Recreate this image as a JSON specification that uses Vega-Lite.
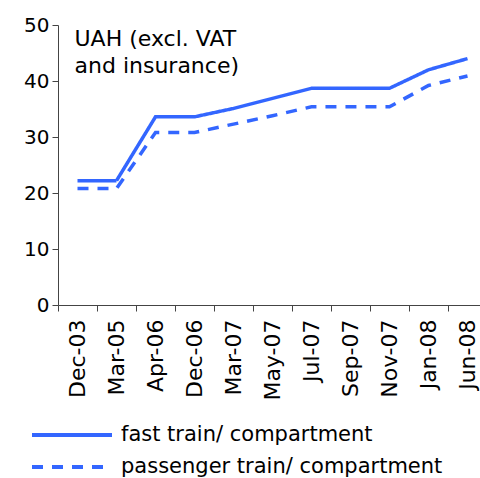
{
  "$schema": "https://vega.github.io/schema/vega-lite/v6.json",
  "autosize": {"type": "none"},
  "padding": {"left": 58, "top": 25, "right": 0, "bottom": 173},
  "width": 429,
  "height": 280,
  "config": {
    "font": "DejaVu Sans",
    "view": {"stroke": null},
    "axis": {"labelFont": "DejaVu Sans", "labelColor": "#000", "domainColor": "#444", "tickColor": "#444", "grid": false, "title": null}
  },
  "data": {"values": [
    {"date": "Dec-03", "series": "fast train/ compartment", "value": 22.2},
    {"date": "Mar-05", "series": "fast train/ compartment", "value": 22.2},
    {"date": "Apr-06", "series": "fast train/ compartment", "value": 33.6},
    {"date": "Dec-06", "series": "fast train/ compartment", "value": 33.6},
    {"date": "Mar-07", "series": "fast train/ compartment", "value": 35.1},
    {"date": "May-07", "series": "fast train/ compartment", "value": 36.9},
    {"date": "Jul-07", "series": "fast train/ compartment", "value": 38.7},
    {"date": "Sep-07", "series": "fast train/ compartment", "value": 38.7},
    {"date": "Nov-07", "series": "fast train/ compartment", "value": 38.7},
    {"date": "Jan-08", "series": "fast train/ compartment", "value": 42.0},
    {"date": "Jun-08", "series": "fast train/ compartment", "value": 44.0},
    {"date": "Dec-03", "series": "passenger train/ compartment", "value": 20.8},
    {"date": "Mar-05", "series": "passenger train/ compartment", "value": 20.8},
    {"date": "Apr-06", "series": "passenger train/ compartment", "value": 30.8},
    {"date": "Dec-06", "series": "passenger train/ compartment", "value": 30.8},
    {"date": "Mar-07", "series": "passenger train/ compartment", "value": 32.3},
    {"date": "May-07", "series": "passenger train/ compartment", "value": 33.8},
    {"date": "Jul-07", "series": "passenger train/ compartment", "value": 35.4},
    {"date": "Sep-07", "series": "passenger train/ compartment", "value": 35.4},
    {"date": "Nov-07", "series": "passenger train/ compartment", "value": 35.4},
    {"date": "Jan-08", "series": "passenger train/ compartment", "value": 39.2},
    {"date": "Jun-08", "series": "passenger train/ compartment", "value": 40.9}
  ]},
  "layer": [
    {
      "mark": {"type": "line", "strokeWidth": 3.5, "color": "#3366ff", "strokeCap": "butt"},
      "encoding": {
        "x": {"field": "date", "type": "nominal", "sort": null, "bandPosition": 0.5,
              "scale": {"type": "band", "paddingInner": 0, "paddingOuter": 0},
              "axis": {"labelAngle": -90, "labelFontSize": 22, "tickBand": "extent", "tickSize": 6, "labelPadding": 8}},
        "y": {"field": "value", "type": "quantitative",
              "scale": {"domain": [0, 50], "nice": false},
              "axis": {"values": [0, 10, 20, 30, 40, 50], "labelFontSize": 20, "tickSize": 6, "labelPadding": 3}},
        "strokeDash": {"field": "series", "type": "nominal",
              "scale": {"range": [[1, 0], [11, 9]]},
              "legend": {"title": null, "orient": "none", "legendX": 2, "legendY": 398, "symbolType": "M-4,0H4", "symbolSize": 400, "symbolStrokeWidth": 4, "symbolStrokeColor": "#3366ff", "symbolFillColor": "transparent", "labelFontSize": 21, "labelColor": "#000", "labelOffset": 37, "rowPadding": 10, "labelLimit": 500}}
      }
    },
    {
      "data": {"values": [{}]},
      "mark": {"type": "text", "align": "left", "baseline": "top", "fontSize": 22, "dx": -3, "lineHeight": 27, "color": "#000"},
      "encoding": {
        "x": {"datum": "Dec-03", "type": "nominal", "bandPosition": 0.5},
        "y": {"datum": 49.2, "type": "quantitative"},
        "text": {"value": ["UAH (excl. VAT", "and insurance)"]}
      }
    }
  ]
}
